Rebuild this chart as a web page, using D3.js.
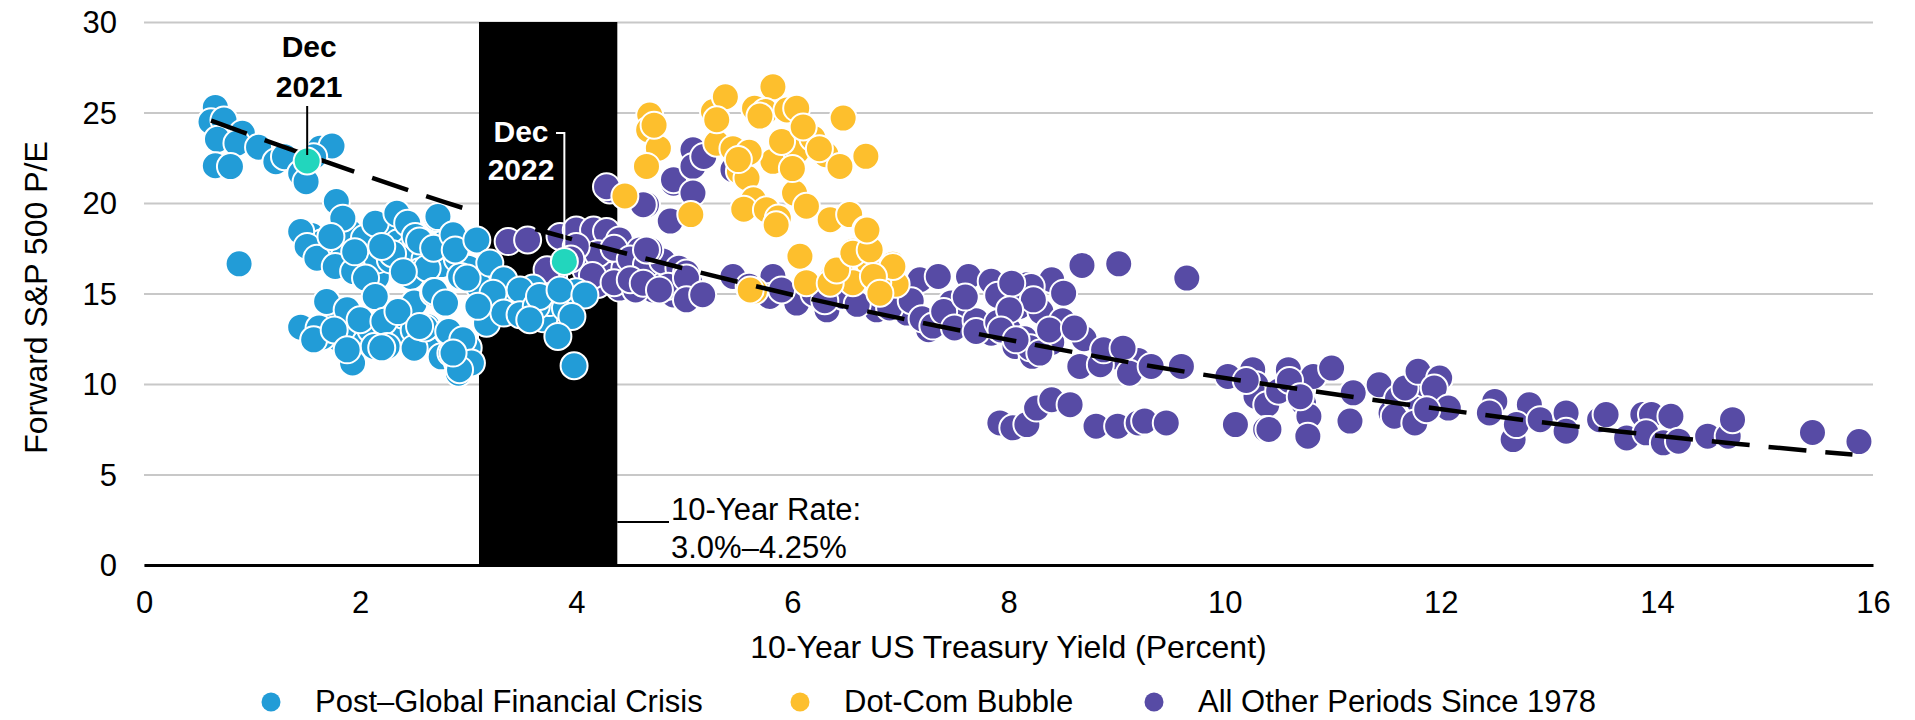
<!DOCTYPE html>
<html lang="en">
<head>
<meta charset="UTF-8">
<title>Forward P/E vs 10-Year Yield</title>
<script src="https://cdn.jsdelivr.net/npm/d3@7"></script>
<style>
  body { margin: 0; background: #fff; }
  svg { display: block; font-family: "Liberation Sans", Arial, sans-serif; }
  .grid line { stroke: #c8c8c8; stroke-width: 2; }
  .grid .domain { display: none; }
  .tick text { font-size: 31px; fill: #000; }
</style>
</head>
<body>
<svg width="1915" height="720"></svg>
<script>
// values: [yield %, forward P/E]
var gfcPoints = [
  [0.66,25.28],[0.62,24.49],[0.74,24.58],[0.91,23.85],[0.68,23.52],[0.86,23.3],[1.06,23.08],
  [0.66,22.06],[0.80,22.01],[1.22,22.28],[1.30,22.56],[1.45,21.64],[1.50,21.18],[1.63,23.02],
  [1.74,23.15],[1.57,22.56],[0.88,16.64],
  [1.55,18.2],[1.65,17.8],[1.85,17.0],[1.90,18.4],[2.00,16.7],[2.10,17.5],[2.25,18.3],[2.35,17.8],
  [2.45,17.4],[2.60,16.9],[2.75,16.6],[2.80,17.9],[2.90,16.9],[3.00,16.4],[2.55,16.2],[2.15,15.9],
  [1.78,20.08],[1.84,19.16],[1.45,18.42],[1.51,17.6],[1.60,16.95],[1.73,18.15],[1.77,16.49],
  [1.94,16.21],[2.04,18.05],[2.14,18.88],[2.16,16.86],[2.05,15.85],[2.34,19.43],[2.44,18.88],
  [2.28,16.86],[2.51,18.15],[2.68,17.5],[2.71,19.16],[2.47,15.94],[2.62,16.4],[2.68,15.11],
  [2.87,18.15],[2.93,15.94],[2.30,17.2],[2.40,16.2],[2.55,17.9],[2.20,17.6],[1.95,17.3],
  [1.55,13.0],[1.70,13.3],[1.80,12.5],[1.95,12.8],[2.05,12.3],[2.10,13.0],[1.65,12.6],[2.30,12.6],
  [2.40,13.8],[2.55,12.6],[2.70,12.4],[2.75,11.5],[2.90,11.2],[3.00,12.0],
  [1.69,14.56],[1.88,14.1],[1.45,13.14],[1.62,13.09],[1.57,12.44],[1.76,12.99],[2.00,13.55],
  [2.14,14.83],[2.22,13.46],[2.13,12.07],[1.93,11.16],[2.25,12.07],[1.88,11.89],[2.50,14.47],
  [2.68,15.02],[2.50,12.99],[2.62,13.18],[2.81,12.9],[2.50,11.98],[2.84,11.71],[2.91,10.6],
  [2.60,13.1],[2.35,14.0],[2.20,12.0],
  [3.30,14.6],[3.40,14.2],[3.55,14.0],[3.70,13.6],[3.75,14.5],[3.90,14.2],[4.00,15.1],[3.60,15.3],
  [3.25,14.0],[3.10,15.4],
  [2.72,19.25],[2.68,17.5],[2.86,18.24],[2.88,17.41],[3.08,17.96],[3.20,16.68],[2.99,15.85],
  [2.69,15.11],[2.79,14.47],[2.55,13.18],[2.82,12.9],[2.95,12.44],[3.03,11.16],[2.92,10.79],
  [2.86,11.71],[3.33,15.76],[3.23,15.02],[3.48,15.2],[3.17,13.36],[3.33,13.92],[3.48,13.83],
  [3.63,14.29],[3.66,14.84],[3.85,15.2],[4.08,14.92],[3.96,13.73],[3.83,12.63],[3.98,11.01],
  [3.57,13.55],[3.09,14.29]
];

var dotcomPoints = [
  [4.45,20.39],[4.68,24.86],[4.67,24.04],[4.76,23.03],[4.65,22.02],[5.06,19.36],[5.27,25.05],
  [5.38,25.87],[5.30,23.3],[5.51,21.75],[5.58,21.38],[5.64,20.18],[5.82,26.42],[5.65,25.23],
  [5.75,25.05],[5.95,25.14],[6.04,25.23],[5.82,22.3],[6.04,22.85],[6.19,23.58],[6.31,22.67],
  [6.44,22.02],[6.47,24.69],[6.68,22.58],[5.55,19.66],[5.76,19.63],[5.87,19.17],[5.85,18.8],
  [6.02,20.55],[6.13,19.82],[6.35,19.08],[6.53,19.36],[6.68,18.53],[6.73,17.43],[6.56,17.34],
  [6.07,17.06],[6.44,16.33],[6.38,15.97],[6.72,16.52],[6.93,16.61],[6.96,15.51],[6.79,15.6],
  [5.65,15.14],[6.13,15.6],[6.56,15.6],
  [5.61,15.2],[6.35,15.57],[6.41,16.3],[6.56,17.23],[6.72,17.41],[6.69,18.51],[6.93,16.49],
  [6.75,15.94],[6.81,15.02],
  [4.72,24.3],[5.30,24.6],[5.45,23.0],[5.60,22.8],[5.70,24.8],[5.90,23.4],[6.10,24.2],[6.25,23.0],
  [6.00,21.9],[5.50,22.4]
];

var otherPoints = [
  [3.37,17.87],[3.55,17.96],[3.85,18.15],[4.00,18.51],[4.16,18.51],[4.28,18.42],[4.40,17.96],
  [4.59,17.41],[4.87,16.31],[4.28,16.68],[4.47,15.76],[4.56,15.57],[4.71,15.2],[4.90,14.92],
  [4.09,16.31],[3.79,15.94],[3.73,16.31],[4.31,20.72],[4.65,19.9],[4.87,19.07],[4.90,21.09],
  [4.30,16.0],[4.45,16.4],[4.60,16.0],[4.75,15.5],[4.90,15.9],[4.40,15.3],[4.20,15.5],
  [4.10,17.0],[4.20,17.2],[4.35,17.5],[4.50,16.9],[4.65,16.6],[4.80,16.8],[4.95,16.4],[5.05,15.6],
  [4.15,16.0],[4.35,15.6],[4.55,15.2],[4.85,15.4],[5.10,15.0],[4.00,17.6],[3.95,16.9],
  [5.08,22.94],[4.90,21.29],[5.08,22.02],[5.08,20.55],[4.87,19.0],[4.62,19.91],[4.28,20.9],
  [5.18,22.57],[5.45,21.84],[4.50,15.76],[4.68,17.41],[5.02,16.13],[5.45,15.94],[5.82,15.94],
  [6.01,14.84],[6.99,14.47],
  [4.65,17.41],[4.62,15.57],[4.77,15.2],[5.02,15.85],[5.02,14.65],[5.17,14.93],[5.45,15.94],
  [5.79,14.84],[6.04,14.47],[6.32,14.1],[6.47,14.84],[6.78,14.1],[7.06,13.92],[7.18,15.76],
  [7.35,15.94],[7.63,15.94],[7.84,15.67],[8.17,15.48],[7.47,14.47],[7.60,13.55],[7.26,13.0],
  [7.84,12.81],[8.06,12.07],[8.22,11.53],[8.10,14.29],
  [5.60,15.4],[5.90,15.2],[6.20,15.0],[6.30,14.6],[6.60,14.4],[6.90,14.2],[7.10,14.6],[7.20,13.6],
  [7.30,13.2],[7.40,14.0],[7.50,13.1],[7.70,13.5],[7.70,12.9],[7.90,13.4],[8.00,13.0],[8.15,12.5],
  [7.60,14.8],[7.90,14.9],[8.30,14.0],[8.50,13.5],[8.40,12.3],[8.20,12.0],[8.70,12.5],[8.90,11.4],
  [9.00,11.5],[9.20,11.3],
  [8.68,16.55],[9.02,16.64],[9.65,15.85],[8.40,15.76],[8.21,15.39],[8.51,15.02],[8.03,15.57],
  [8.23,14.65],[8.01,14.1],[7.93,12.99],[8.07,12.44],[8.29,11.71],[8.38,12.99],[8.61,13.09],
  [8.66,10.97],[8.85,11.07],[8.88,11.89],[9.06,11.98],[9.12,10.6],[9.32,10.97],[9.60,10.97],
  [10.03,10.42],[10.26,10.79],[10.29,9.96],[10.29,9.32],[10.39,8.86],[10.59,10.79],[10.63,9.78],
  [10.82,10.42],[10.99,10.88],[10.73,8.95],[10.78,8.22],[10.77,7.12],[11.16,7.95],[11.19,9.51],
  [11.43,9.96],[11.54,8.4],
  [10.20,10.2],[10.50,9.6],[10.60,10.2],[10.70,9.3],[11.60,9.2],[11.80,9.0],[11.70,9.9],
  [11.95,9.1],[11.85,10.0],
  [7.92,7.85],[8.04,7.58],[8.17,7.76],[8.26,8.67],[8.40,9.13],[8.57,8.86],[8.81,7.67],
  [9.01,7.67],[9.20,7.85],[9.26,7.95],[9.46,7.85],[10.10,7.76],[10.38,7.49],[10.41,7.49],
  [11.67,9.78],[11.79,10.7],[11.99,10.33],[11.94,9.78],[12.07,8.67],[11.57,8.22],[11.76,7.85],
  [11.87,8.58],[12.50,9.04],[12.45,8.4],[12.82,8.86],[12.67,6.93],[12.70,7.76],[12.92,8.03],
  [13.16,8.4],[13.16,7.39],[13.47,8.03],[13.53,8.31],[13.72,7.02],[13.87,8.31],[13.95,8.31],
  [14.13,8.22],[13.90,7.3],[14.06,6.75],[14.20,6.84],[14.47,7.12],[14.66,7.12],[14.70,8.03],
  [15.44,7.32],[15.87,6.82]
];

var highlightPoints = [
  { label: ["Dec", "2021"], x: 1.51, y: 22.32 },
  { label: ["Dec", "2022"], x: 3.89, y: 16.77 }
];

// dashed trend line
var trendPoints = [
  [0.62,24.55],[1.97,21.68],[2.96,19.71],[3.76,18.33],[4.57,17.04],[6.13,14.75],[7.21,13.37],
  [8.29,12.11],[9.34,10.97],[10.94,9.5],[13.65,7.38],[14.73,6.7],[15.81,6.1]
];

var rateBand = [3.1, 4.38];
var xTicks = [0, 2, 4, 6, 8, 10, 12, 14, 16];
var yTicks = [0, 5, 10, 15, 20, 25, 30];

var legendItems = [
  { name: "Post\u2013Global Financial Crisis", color: "#229cd7" },
  { name: "Dot-Com Bubble", color: "#fdbf2d" },
  { name: "All Other Periods Since 1978", color: "#574ba5" }
];

var svg = d3.select("svg");
var margin = { left: 144, right: 42, top: 22, bottom: 155 };
var width = 1915, height = 720;

var x = d3.scaleLinear().domain([0, 16]).range([margin.left, width - margin.right]);
var y = d3.scaleLinear().domain([0, 30]).range([height - margin.bottom, margin.top]);

// gridlines + y labels
var gy = svg.append("g")
  .attr("class", "grid")
  .attr("transform", "translate(" + margin.left + ",0)")
  .call(d3.axisLeft(y).tickValues(yTicks).tickSize(-(x(16) - x(0))).tickPadding(27));
gy.selectAll(".tick text").attr("dy", "0.35em");

// black band
svg.append("rect")
  .attr("x", x(rateBand[0]))
  .attr("y", y(30))
  .attr("width", x(rateBand[1]) - x(rateBand[0]))
  .attr("height", y(0) - y(30))
  .attr("fill", "#000");

// x axis
var gx = svg.append("g")
  .attr("transform", "translate(0," + y(0) + ")")
  .call(d3.axisBottom(x).tickValues(xTicks).tickSize(0).tickPadding(26));
gx.select(".domain").attr("stroke", "#000").attr("stroke-width", 3);

function dots(data, color) {
  svg.append("g").selectAll("circle")
    .data(data)
    .enter().append("circle")
    .attr("cx", function(d) { return x(d[0]); })
    .attr("cy", function(d) { return y(d[1]); })
    .attr("r", 13.5)
    .attr("fill", color)
    .attr("stroke", "#fff")
    .attr("stroke-width", 2);
}
dots(otherPoints, legendItems[2].color);
dots(dotcomPoints, legendItems[1].color);
dots(gfcPoints, legendItems[0].color);

// trend line
svg.append("path")
  .datum(trendPoints)
  .attr("fill", "none")
  .attr("stroke", "#000")
  .attr("stroke-width", 4.5)
  .attr("stroke-dasharray", "38,19")
  .attr("d", d3.line().curve(d3.curveMonotoneX)
    .x(function(d) { return x(d[0]); })
    .y(function(d) { return y(d[1]); }));

// highlight points
svg.append("g").selectAll("circle")
  .data(highlightPoints)
  .enter().append("circle")
  .attr("cx", function(d) { return x(d.x); })
  .attr("cy", function(d) { return y(d.y); })
  .attr("r", 13.5)
  .attr("fill", "#22d6bd")
  .attr("stroke", "#fff")
  .attr("stroke-width", 2);

// Dec 2021 label
var h1 = highlightPoints[0];
svg.append("line")
  .attr("x1", x(h1.x)).attr("x2", x(h1.x))
  .attr("y1", 106).attr("y2", y(h1.y) - 6)
  .attr("stroke", "#000").attr("stroke-width", 2);
svg.append("text")
  .attr("x", x(h1.x) + 2).attr("y", 57)
  .attr("text-anchor", "middle")
  .attr("font-size", 30).attr("font-weight", "bold")
  .selectAll("tspan").data(h1.label).enter().append("tspan")
  .attr("x", x(h1.x) + 2)
  .attr("dy", function(d, i) { return i ? 40 : 0; })
  .text(function(d) { return d; });

// Dec 2022 label (white, inside band)
var h2 = highlightPoints[1];
svg.append("path")
  .attr("d", "M" + 556 + "," + 133 + "H" + x(h2.x) + "V" + (y(h2.y) - 13))
  .attr("fill", "none").attr("stroke", "#fff").attr("stroke-width", 2);
svg.append("text")
  .attr("x", 521).attr("y", 142)
  .attr("text-anchor", "middle")
  .attr("font-size", 30).attr("font-weight", "bold").attr("fill", "#fff")
  .selectAll("tspan").data(h2.label).enter().append("tspan")
  .attr("x", 521)
  .attr("dy", function(d, i) { return i ? 38 : 0; })
  .text(function(d) { return d; });

// band annotation
svg.append("line")
  .attr("x1", x(rateBand[1])).attr("x2", 669)
  .attr("y1", 522).attr("y2", 522)
  .attr("stroke", "#000").attr("stroke-width", 2);
svg.append("text")
  .attr("x", 671).attr("y", 520)
  .attr("font-size", 31)
  .selectAll("tspan").data(["10-Year Rate:", "3.0%\u20134.25%"]).enter().append("tspan")
  .attr("x", 671)
  .attr("dy", function(d, i) { return i ? 38 : 0; })
  .text(function(d) { return d; });

// axis titles
svg.append("text")
  .attr("x", (x(0) + x(16)) / 2).attr("y", 658)
  .attr("text-anchor", "middle")
  .attr("font-size", 32)
  .text("10-Year US Treasury Yield (Percent)");

svg.append("text")
  .attr("transform", "translate(47," + (y(15) + 4) + ") rotate(-90)")
  .attr("text-anchor", "middle")
  .attr("font-size", 32)
  .text("Forward S&P 500 P/E");

// legend
var legendX = [271, 800, 1154];
var lg = svg.append("g").selectAll("g")
  .data(legendItems)
  .enter().append("g")
  .attr("transform", function(d, i) { return "translate(" + legendX[i] + ",702)"; });
lg.append("circle").attr("r", 9.5).attr("fill", function(d) { return d.color; });
lg.append("text")
  .attr("x", 44).attr("y", 10)
  .attr("font-size", 31)
  .text(function(d) { return d.name; });
</script>
</body>
</html>
